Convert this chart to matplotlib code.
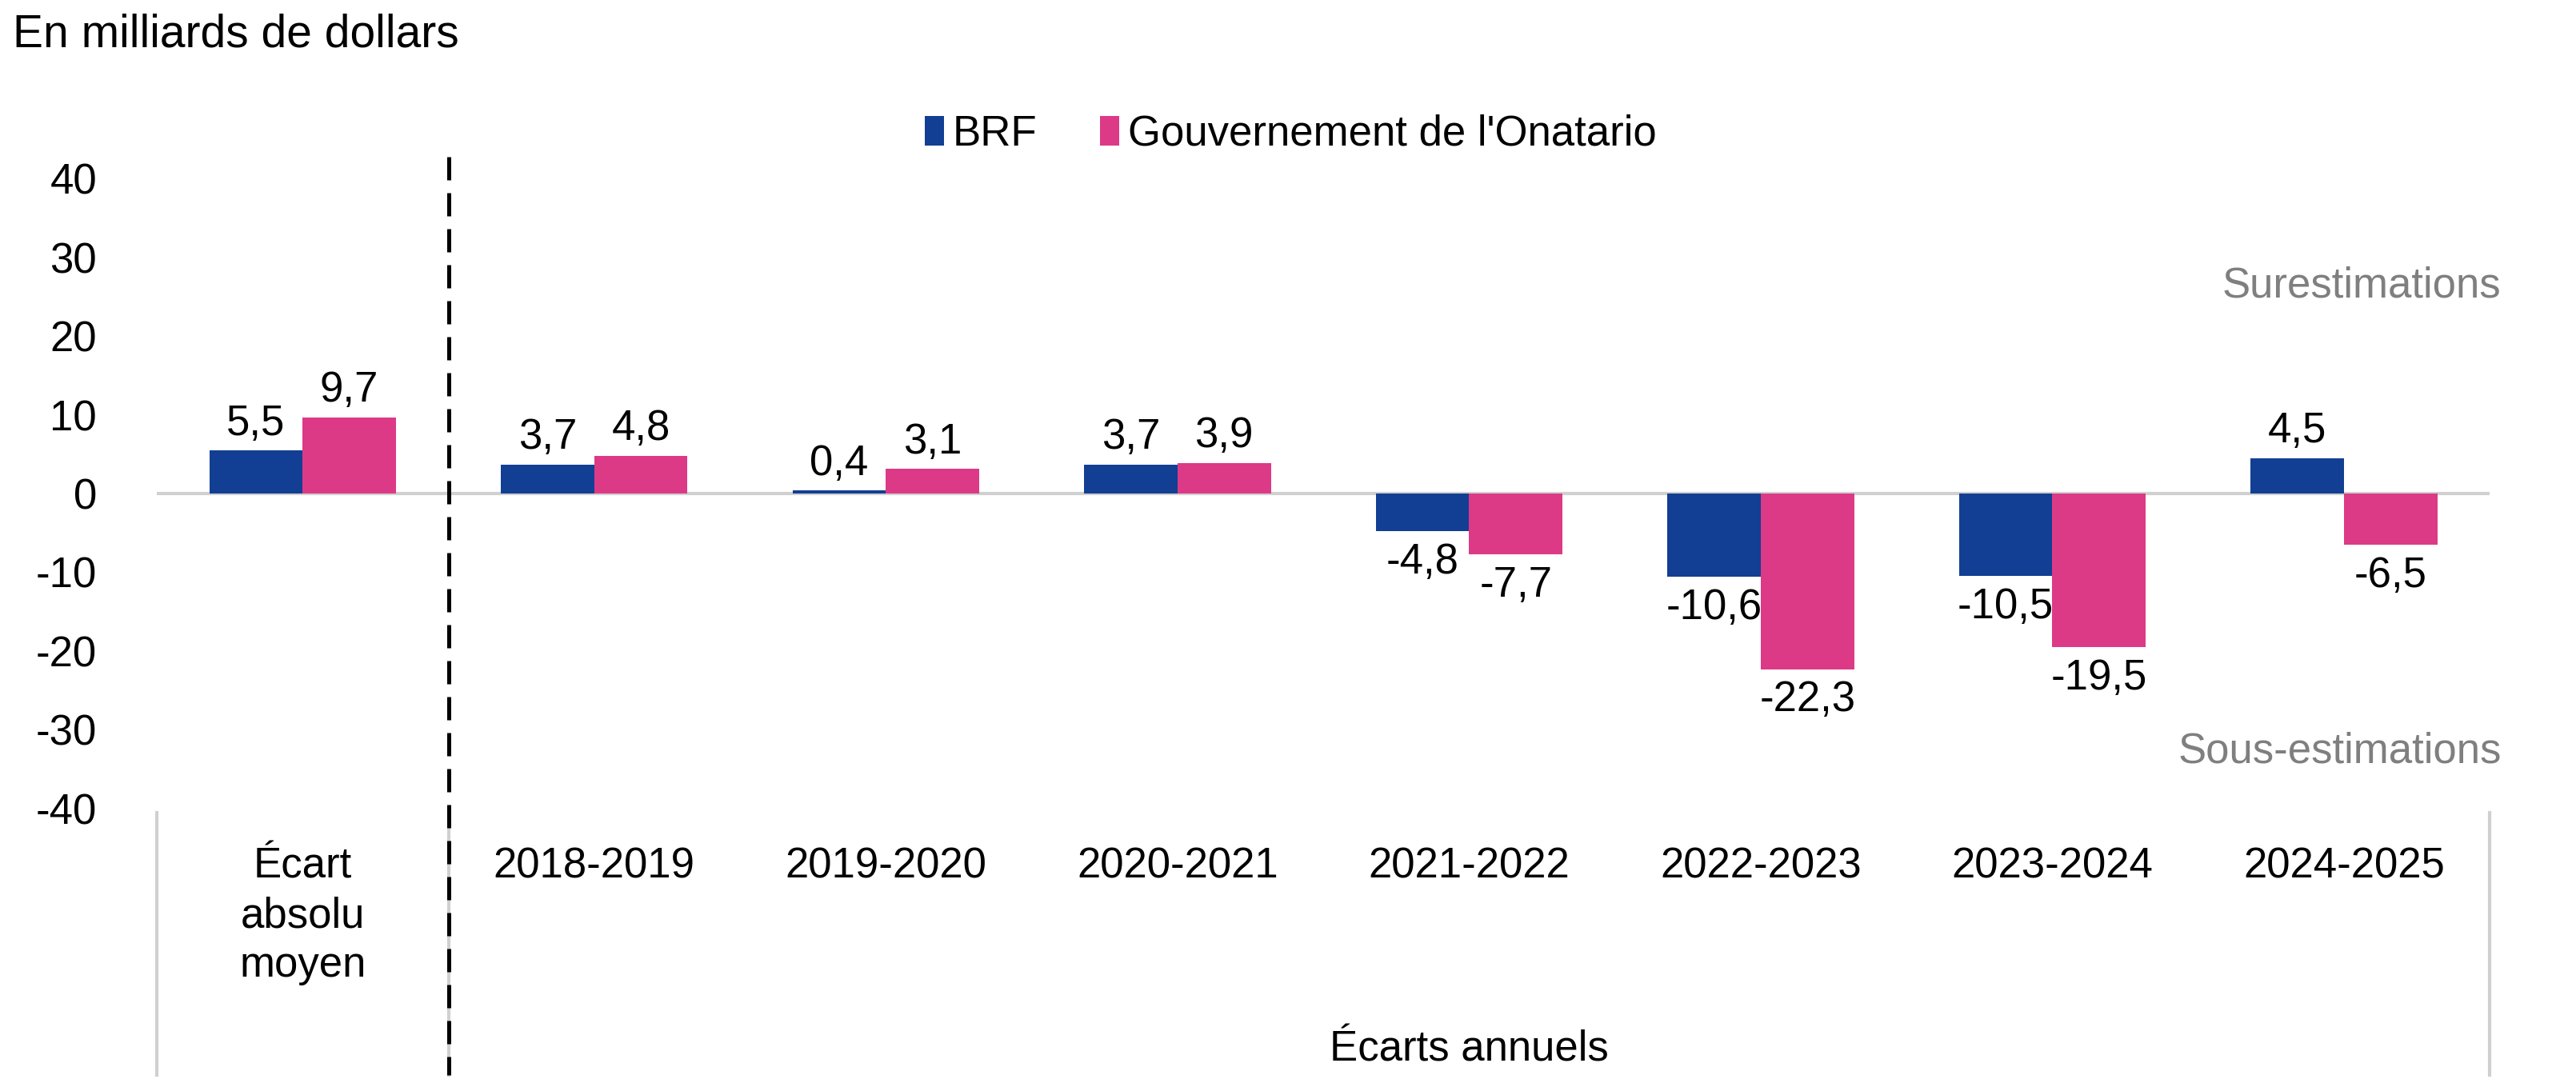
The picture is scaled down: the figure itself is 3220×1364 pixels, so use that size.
import matplotlib
matplotlib.use("Agg")
import matplotlib.pyplot as plt
import matplotlib.transforms as mtransforms
import numpy as np

plt.rcParams['font.family'] = ['Liberation Sans', 'DejaVu Sans']

categories = ["Écart\nabsolu\nmoyen", "2018-2019", "2019-2020", "2020-2021",
              "2021-2022", "2022-2023", "2023-2024", "2024-2025"]
brf = [5.5, 3.7, 0.4, 3.7, -4.8, -10.6, -10.5, 4.5]
ontario = [9.7, 4.8, 3.1, 3.9, -7.7, -22.3, -19.5, -6.5]
series_names = ["BRF", "Gouvernement de l'Onatario"]
yticks = [40, 30, 20, 10, 0, -10, -20, -30, -40]

blue = "#123F93"
pink = "#DC3A87"
grid_gray = "#D0D0D0"
fs = 19

fig = plt.figure(figsize=(16.1, 6.82), dpi=200)
ax = fig.add_axes([0.0609, 0.259, 0.9056, 0.5773])

x = np.arange(len(categories))
w = 0.32
b1 = ax.bar(x - w / 2, brf, w, color=blue, label=series_names[0], zorder=3)
b2 = ax.bar(x + w / 2, ontario, w, color=pink, label=series_names[1], zorder=3)

# etiquettes des valeurs
for bars, vals in ((b1, brf), (b2, ontario)):
    for r, v in zip(bars, vals):
        txt = f"{v:.1f}".replace(".", ",")
        cx = r.get_x() + r.get_width() / 2
        if v >= 0:
            ax.annotate(txt, (cx, v), xytext=(0, 3), textcoords="offset points",
                        ha="center", va="bottom", fontsize=fs)
        else:
            ax.annotate(txt, (cx, v), xytext=(0, -5), textcoords="offset points",
                        ha="center", va="top", fontsize=fs)

ax.set_xlim(-0.5, len(categories) - 0.5)
ax.set_ylim(-40, 40)
ax.set_yticks(yticks)
ax.set_yticklabels([str(t) for t in yticks], fontsize=fs)
ax.tick_params(axis="y", length=0, pad=27)
ax.set_xticks([])
for s in ax.spines.values():
    s.set_visible(False)
ax.axhline(0, color=grid_gray, lw=1.5, zorder=2)

# axe des categories (sous le graphique)
trans = mtransforms.blended_transform_factory(ax.transData, fig.transFigure)
for xb in (-0.5, 0.5, len(categories) - 0.5):
    ax.plot([xb, xb], [0.255, 0.015], color=grid_gray, lw=1.5,
            transform=trans, clip_on=False)
ax.plot([0.5, 0.5], [0.856, 0.015], color="black", lw=1.8,
        linestyle=(0, (5.8, 3.2)), transform=trans, clip_on=False, zorder=4)

for xi, lab in zip(x, categories):
    ax.text(xi, 0.224, lab, transform=trans, ha="center", va="top",
            fontsize=fs, linespacing=1.3)
ax.text((0.5 + len(categories) - 0.5) / 2, 0.038, "Écarts annuels", transform=trans,
        ha="center", va="center", fontsize=fs)

fig.text(0.005, 0.968, "En milliards de dollars", ha="left", va="center", fontsize=20.5)
fig.text(0.971, 0.738, "Surestimations", ha="right", va="center", fontsize=fs, color="#7F7F7F")
fig.text(0.971, 0.311, "Sous-estimations", ha="right", va="center", fontsize=fs, color="#7F7F7F")

fig.legend(handles=[b1, b2], loc="center", bbox_to_anchor=(0.501, 0.877), ncol=2,
           frameon=False, fontsize=fs, handlelength=0.45, handleheight=0.7,
           handletextpad=0.2, columnspacing=1.5)

fig.savefig("out.png", dpi=200)
